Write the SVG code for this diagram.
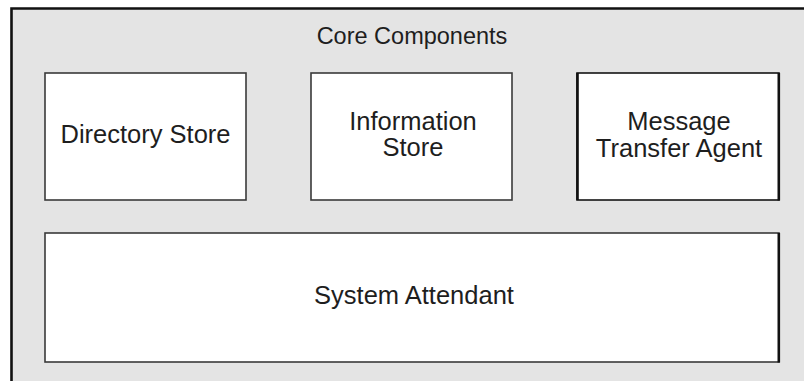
<svg xmlns="http://www.w3.org/2000/svg" width="804" height="381" viewBox="0 0 804 381">
<style>
  text { font-family: "Liberation Sans", Arial, sans-serif; fill: #1e1e1e; text-anchor: middle; }
  .lbl { font-size: 25.5px; }
  .title { font-size: 23.5px; }
  .box { fill: #ffffff; stroke: #3a3a3a; stroke-width: 1.6; }
  .boxd { fill: #ffffff; stroke: #151515; stroke-width: 1.6; }
</style>
<rect x="0" y="0" width="804" height="381" fill="#ffffff"/>
<g id="core-components">
  <rect x="11" y="8" width="800" height="380" fill="#e4e4e4"/>
  <path d="M11.5,382 V8.5 H805" fill="none" stroke="#111111" stroke-width="2.6"/>
  <text class="title" x="412" y="44">Core Components</text>
</g>
<g id="directory-store">
  <rect class="box" x="45" y="73" width="201" height="127"/>
  <text class="lbl" x="145.5" y="143">Directory Store</text>
</g>
<g id="information-store">
  <rect class="box" x="311" y="73" width="201" height="127"/>
  <text class="lbl" x="413" y="130">Information</text>
  <text class="lbl" x="413" y="156">Store</text>
</g>
<g id="message-transfer-agent">
  <rect class="boxd" x="577" y="73" width="202" height="127"/>
  <path d="M577.5,73 V200 M778.8,73 V200.5" stroke="#111111" stroke-width="2.6" fill="none"/>
  <text class="lbl" x="679" y="130">Message</text>
  <text class="lbl" x="679" y="157">Transfer Agent</text>
</g>
<g id="system-attendant">
  <rect class="box" x="45" y="233" width="734" height="129"/>
  <path d="M778.8,233 V362.5" stroke="#111111" stroke-width="2.6" fill="none"/>
  <text class="lbl" x="414" y="304">System Attendant</text>
</g>
<g id="connectors"></g>
</svg>
